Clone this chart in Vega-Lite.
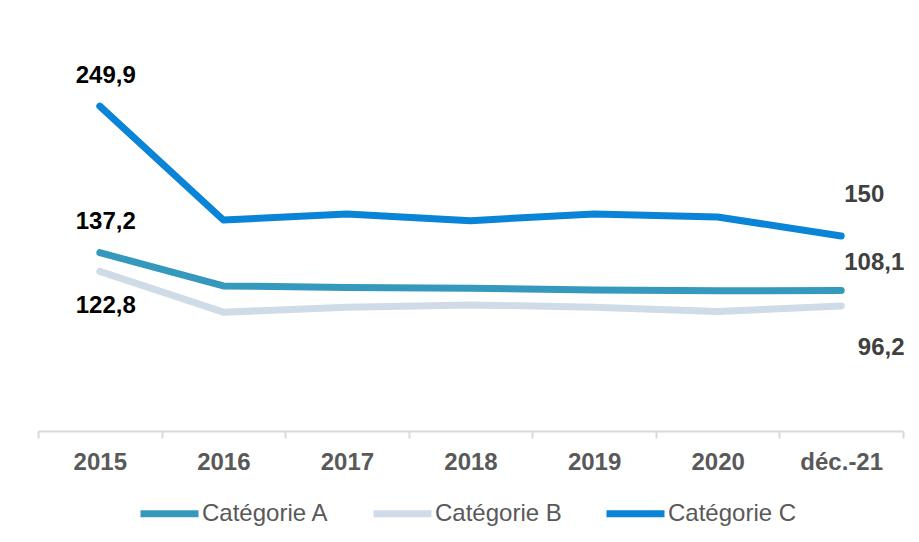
{
  "$schema": "https://vega.github.io/schema/vega-lite/v6.json",
  "width": 865,
  "height": 390,
  "autosize": "none",
  "padding": {"left": 38, "top": 41, "right": 16, "bottom": 111},
  "background": "white",
  "config": {
    "view": {"stroke": null},
    "locale": {"number": {"decimal": ",", "thousands": " ", "grouping": [3], "currency": ["", " €"]}},
    "text": {"font": "Liberation Sans", "fontWeight": "bold", "fontSize": 24, "baseline": "alphabetic", "align": "center"}
  },
  "data": {
    "values": [
      {"periode": "2015", "serie": "Catégorie A", "valeur": 137.2},
      {"periode": "2016", "serie": "Catégorie A", "valeur": 111.6},
      {"periode": "2017", "serie": "Catégorie A", "valeur": 110.3},
      {"periode": "2018", "serie": "Catégorie A", "valeur": 109.8},
      {"periode": "2019", "serie": "Catégorie A", "valeur": 108.5},
      {"periode": "2020", "serie": "Catégorie A", "valeur": 107.8},
      {"periode": "déc.-21", "serie": "Catégorie A", "valeur": 108.1},
      {"periode": "2015", "serie": "Catégorie B", "valeur": 122.8},
      {"periode": "2016", "serie": "Catégorie B", "valeur": 91.4},
      {"periode": "2017", "serie": "Catégorie B", "valeur": 95.2},
      {"periode": "2018", "serie": "Catégorie B", "valeur": 97.0},
      {"periode": "2019", "serie": "Catégorie B", "valeur": 95.2},
      {"periode": "2020", "serie": "Catégorie B", "valeur": 91.9},
      {"periode": "déc.-21", "serie": "Catégorie B", "valeur": 96.2},
      {"periode": "2015", "serie": "Catégorie C", "valeur": 249.9},
      {"periode": "2016", "serie": "Catégorie C", "valeur": 162.3},
      {"periode": "2017", "serie": "Catégorie C", "valeur": 167.0},
      {"periode": "2018", "serie": "Catégorie C", "valeur": 161.8},
      {"periode": "2019", "serie": "Catégorie C", "valeur": 167.0},
      {"periode": "2020", "serie": "Catégorie C", "valeur": 164.6},
      {"periode": "déc.-21", "serie": "Catégorie C", "valeur": 150.0}
    ]
  },
  "encoding": {
    "x": {
      "field": "periode",
      "type": "nominal",
      "sort": ["2015", "2016", "2017", "2018", "2019", "2020", "déc.-21"],
      "scale": {"type": "band", "paddingInner": 0, "paddingOuter": 0},
      "axis": {
        "title": null,
        "labelAngle": 0,
        "domainColor": "#D9D9D9",
        "domainWidth": 2,
        "tickColor": "#D9D9D9",
        "tickWidth": 2,
        "tickSize": 7,
        "tickBand": "extent",
        "labelFont": "Liberation Sans",
        "labelFontWeight": "bold",
        "labelFontSize": 24,
        "labelColor": "#595959",
        "labelPadding": 12
      }
    },
    "y": {
      "field": "valeur",
      "type": "quantitative",
      "scale": {"domain": [0, 300], "nice": false, "zero": true},
      "axis": null
    }
  },
  "layer": [
    {
      "mark": {"type": "line", "strokeWidth": 7, "strokeCap": "round", "strokeJoin": "round"},
      "encoding": {
        "color": {
          "field": "serie",
          "type": "nominal",
          "scale": {"domain": ["Catégorie A", "Catégorie B", "Catégorie C"], "range": ["#3598BD", "#CFDCE8", "#0A84D6"]},
          "legend": {
            "title": null,
            "orient": "none",
            "direction": "horizontal",
            "legendX": 99,
            "legendY": 440,
            "symbolType": "stroke",
            "symbolSize": 3364,
            "symbolStrokeWidth": 7,
            "labelFont": "Liberation Sans",
            "labelFontSize": 24,
            "labelColor": "#595959",
            "labelOffset": 0,
            "columnPadding": 30
          }
        }
      }
    },
    {
      "transform": [{"filter": {"and": [{"field": "serie", "equal": "Catégorie C"}, {"field": "periode", "equal": "2015"}]}}],
      "mark": {"type": "text", "dx": 6, "dy": -23, "color": "#000000"},
      "encoding": {"text": {"field": "valeur", "type": "quantitative", "format": ".1~f"}}
    },
    {
      "transform": [{"filter": {"and": [{"field": "serie", "equal": "Catégorie A"}, {"field": "periode", "equal": "2015"}]}}],
      "mark": {"type": "text", "dx": 6, "dy": -23.6, "color": "#000000"},
      "encoding": {"text": {"field": "valeur", "type": "quantitative", "format": ".1~f"}}
    },
    {
      "transform": [{"filter": {"and": [{"field": "serie", "equal": "Catégorie B"}, {"field": "periode", "equal": "2015"}]}}],
      "mark": {"type": "text", "dx": 6, "dy": 41.6, "color": "#000000"},
      "encoding": {"text": {"field": "valeur", "type": "quantitative", "format": ".1~f"}}
    },
    {
      "transform": [{"filter": {"and": [{"field": "serie", "equal": "Catégorie C"}, {"field": "periode", "equal": "déc.-21"}]}}],
      "mark": {"type": "text", "dx": 23, "dy": -34, "color": "#404040"},
      "encoding": {"text": {"field": "valeur", "type": "quantitative", "format": ".1~f"}}
    },
    {
      "transform": [{"filter": {"and": [{"field": "serie", "equal": "Catégorie A"}, {"field": "periode", "equal": "déc.-21"}]}}],
      "mark": {"type": "text", "dx": 33, "dy": -20.5, "color": "#404040"},
      "encoding": {"text": {"field": "valeur", "type": "quantitative", "format": ".1~f"}}
    },
    {
      "transform": [{"filter": {"and": [{"field": "serie", "equal": "Catégorie B"}, {"field": "periode", "equal": "déc.-21"}]}}],
      "mark": {"type": "text", "dx": 40, "dy": 49, "color": "#404040"},
      "encoding": {"text": {"field": "valeur", "type": "quantitative", "format": ".1~f"}}
    }
  ]
}
